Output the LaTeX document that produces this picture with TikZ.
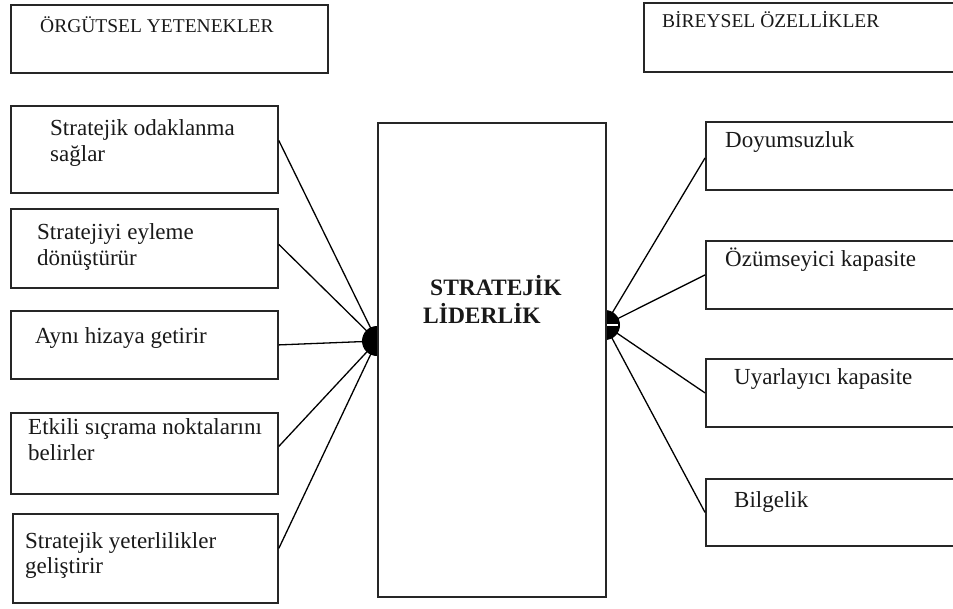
\documentclass[tikz,border=0pt]{standalone}
\usepackage{fontspec}
\setmainfont{Liberation Serif}
\usetikzlibrary{calc}
\begin{document}
\begin{tikzpicture}[x=1pt,y=-1pt,
  box/.style={draw=black!85,line width=1.8pt,inner sep=0pt,anchor=north west},
  txt/.style={anchor=base west,inner sep=0pt,font=\fontsize{23}{27}\selectfont,text=black!90},
  toptxt/.style={anchor=base west,inner sep=0pt,font=\fontsize{19.5}{23}\selectfont,text=black!90},
  conn/.style={draw=black,line width=1.3pt},
  dot/.style={circle,fill=black,inner sep=0pt,minimum size=30pt}]
\useasboundingbox (0,0) rectangle (953,608);
\clip (-5,-5) rectangle (953,613);
% top boxes
\node[box,minimum width=317pt,minimum height=68pt] (tl) at (10,4) {};
\node[box,minimum width=400pt,minimum height=69pt] (tr) at (643,2) {};
\node[toptxt] (tlt) at (40,32) {ÖRGÜTSEL YETENEKLER};
\node[toptxt] (trt) at (662,27) {BİREYSEL ÖZELLİKLER};
% left boxes
\node[box,minimum width=267pt,minimum height=87pt] (l1) at (10,105) {};
\node[box,minimum width=267pt,minimum height=79pt] (l2) at (10,208) {};
\node[box,minimum width=267pt,minimum height=68pt] (l3) at (10,310) {};
\node[box,minimum width=267pt,minimum height=81pt] (l4) at (10,412) {};
\node[box,minimum width=265pt,minimum height=89pt] (l5) at (12,513) {};
% right boxes
\node[box,minimum width=340pt,minimum height=68pt] (r1) at (705,121) {};
\node[box,minimum width=340pt,minimum height=68pt] (r2) at (705,240) {};
\node[box,minimum width=340pt,minimum height=68pt] (r3) at (705,358) {};
\node[box,minimum width=340pt,minimum height=67pt] (r4) at (705,478) {};
% connector hubs
\coordinate (hl) at (377,341);
\coordinate (hr) at (605,325);
\draw[conn] ($(l1.north east)!0.4!(l1.south east)$) -- (hl);
\draw[conn] ($(l2.east)+(0,-4)$) -- (hl);
\draw[conn] (l3.east) -- (hl);
\draw[conn] ($(l4.east)+(0,-7)$) -- (hl);
\draw[conn] ($(l5.east)+(0,-10)$) -- (hl);
\draw[conn] ($(r1.north west)!0.53!(r1.south west)$) -- (hr);
\draw[conn] (r2.west) -- (hr);
\draw[conn] (r3.west) -- (hr);
\draw[conn] (r4.west) -- (hr);
\node[dot] (dl) at (hl) {};
\node[dot] (dr) at (hr) {};
\draw[white,line width=1.5pt] (dr.center) -- ($(dr.east)+(-2,0)$);
% center box
\node[box,fill=white,minimum width=228pt,minimum height=474pt] (c) at (377,122) {};
\node[txt,font=\fontsize{23.5}{27}\selectfont\bfseries] (c1) at (430,295) {STRATEJİK};
\node[txt,font=\fontsize{23.5}{27}\selectfont\bfseries] (c2) at (423,323) {LİDERLİK};
% left texts
\node[txt] (l1a) at (50,135) {Stratejik odaklanma};
\node[txt] (l1b) at (50,161) {sağlar};
\node[txt] (l2a) at (37,239) {Stratejiyi eyleme};
\node[txt] (l2b) at (37,265) {dönüştürür};
\node[txt] (l3a) at (35,343) {Aynı hizaya getirir};
\node[txt] (l4a) at (28,434) {Etkili sıçrama noktalarını};
\node[txt] (l4b) at (28,460) {belirler};
\node[txt] (l5a) at (25,548) {Stratejik yeterlilikler};
\node[txt] (l5b) at (25,573) {geliştirir};
% right texts
\node[txt] (r1a) at (725,147) {Doyumsuzluk};
\node[txt] (r2a) at (725,266) {Özümseyici kapasite};
\node[txt] (r3a) at (734,384) {Uyarlayıcı kapasite};
\node[txt] (r4a) at (734,507) {Bilgelik};
\end{tikzpicture}
\end{document}
